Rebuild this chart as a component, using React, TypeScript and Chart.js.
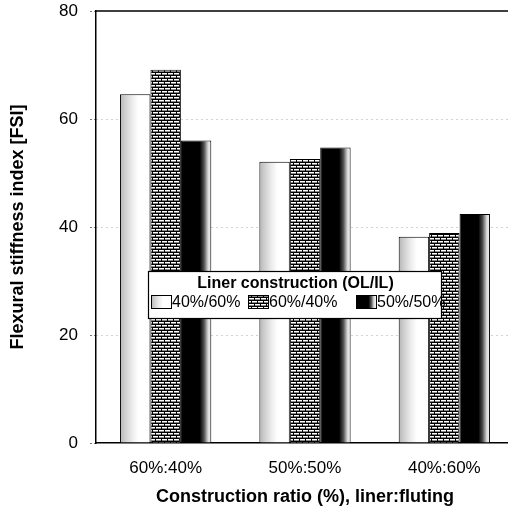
import React, { useEffect, useRef } from "react";
import { Chart, registerables } from "chart.js";

Chart.register(...registerables);

// Construction ratio (liner:fluting) on the category axis
const ratioLabels = ["60%:40%", "50%:50%", "40%:60%"];
// Liner construction (OL/IL) series
const series4060 = [64.6, 52.1, 38.2];
const series6040 = [69.1, 52.6, 38.9];
const series5050 = [56.0, 54.7, 42.4];
const seriesNames = ["40%/60%", "60%/40%", "50%/50%"];
const yTicks = [0, 20, 40, 60, 80];

const FONT = "'Liberation Sans', Arial, sans-serif";
const GROUP_PCT = 0.655;

function brickPattern(ctx: CanvasRenderingContext2D): CanvasPattern | string {
  const c = document.createElement("canvas");
  c.width = 6;
  c.height = 6;
  const p = c.getContext("2d");
  if (!p) return "#444";
  p.fillStyle = "#000";
  p.fillRect(0, 0, 6, 6);
  p.fillStyle = "#fff";
  p.fillRect(0, 1, 5, 1);
  p.fillRect(3, 4, 3, 1);
  p.fillRect(0, 4, 2, 1);
  p.fillStyle = "#888";
  p.fillRect(0, 2, 5, 1);
  p.fillRect(3, 5, 3, 1);
  p.fillRect(0, 5, 2, 1);
  return ctx.createPattern(c, "repeat") || "#444";
}

function lightGradient(ctx: CanvasRenderingContext2D, x0: number, x1: number) {
  const g = ctx.createLinearGradient(x0, 0, x1, 0);
  g.addColorStop(0, "#b4b4b4");
  g.addColorStop(0.15, "#cccccc");
  g.addColorStop(0.4, "#ececec");
  g.addColorStop(0.6, "#ffffff");
  g.addColorStop(1, "#ffffff");
  return g;
}

function darkGradient(ctx: CanvasRenderingContext2D, x0: number, x1: number) {
  const g = ctx.createLinearGradient(x0, 0, x1, 0);
  g.addColorStop(0, "#000000");
  g.addColorStop(0.62, "#000000");
  g.addColorStop(0.76, "#505050");
  g.addColorStop(0.9, "#dcdcdc");
  g.addColorStop(1, "#f2f2f2");
  return g;
}

function barFill(kind: number) {
  return (c: any) => {
    const chart = c.chart;
    const ctx = chart.ctx as CanvasRenderingContext2D;
    if (kind === 1) return brickPattern(ctx);
    const xs = chart.scales?.x;
    if (!chart.chartArea || !xs || c.dataIndex === undefined) {
      return kind === 0 ? "#eeeeee" : "#000000";
    }
    const catW = xs.width / ratioLabels.length;
    const barW = (catW * GROUP_PCT) / 3;
    const cx = xs.getPixelForValue(c.dataIndex);
    const left = cx - (catW * GROUP_PCT) / 2 + c.datasetIndex * barW;
    return kind === 0
      ? lightGradient(ctx, left, left + barW)
      : darkGradient(ctx, left, left + barW);
  };
}

// Top frame line of the plot area
const frameTop = {
  id: "frameTop",
  afterDraw(chart: any) {
    const { ctx, chartArea } = chart;
    ctx.save();
    ctx.strokeStyle = "#000";
    ctx.lineWidth = 1.5;
    ctx.beginPath();
    ctx.moveTo(chartArea.left, chartArea.top);
    ctx.lineTo(chartArea.right, chartArea.top);
    ctx.stroke();
    ctx.restore();
  },
};

// Boxed legend sitting over the bars
const boxLegend = {
  id: "boxLegend",
  afterDraw(chart: any) {
    const { ctx } = chart;
    const bx = 148, by = 271, bw = 293, bh = 47;
    ctx.save();
    ctx.fillStyle = "#fff";
    ctx.fillRect(bx, by, bw, bh);
    ctx.strokeStyle = "#000";
    ctx.lineWidth = 1.2;
    ctx.strokeRect(bx + 0.5, by + 0.5, bw, bh);

    ctx.fillStyle = "#000";
    ctx.font = `bold 16px ${FONT}`;
    ctx.textAlign = "center";
    ctx.textBaseline = "middle";
    ctx.fillText("Liner construction (OL/IL)", bx + bw / 2 + 1, by + 13);

    const swX = [151, 248, 356];
    const sy = by + 24, sw = 20, sh = 13;
    ctx.font = `16px ${FONT}`;
    ctx.textAlign = "left";
    seriesNames.forEach((name, i) => {
      const x = swX[i];
      if (i === 0) ctx.fillStyle = lightGradient(ctx, x, x + sw);
      else if (i === 1) ctx.fillStyle = brickPattern(ctx);
      else ctx.fillStyle = darkGradient(ctx, x, x + sw);
      ctx.fillRect(x, sy, sw, sh);
      ctx.strokeStyle = "#000";
      ctx.lineWidth = 1;
      ctx.strokeRect(x + 0.5, sy + 0.5, sw, sh);
      ctx.fillStyle = "#000";
      ctx.fillText(name, x + sw + 1, sy + sh / 2 + 1);
    });
    ctx.restore();
  },
};

export default function App() {
  const ref = useRef<HTMLCanvasElement>(null);

  useEffect(() => {
    if (!ref.current) return;
    const chart = new Chart(ref.current, {
      type: "bar",
      data: {
        labels: ratioLabels,
        datasets: [
          { label: seriesNames[0], data: series4060, backgroundColor: barFill(0) },
          { label: seriesNames[1], data: series6040, backgroundColor: barFill(1) },
          { label: seriesNames[2], data: series5050, backgroundColor: barFill(2) },
        ].map((d) => ({
          ...d,
          borderColor: "#000",
          borderWidth: 1,
          categoryPercentage: GROUP_PCT,
          barPercentage: 1,
        })),
      },
      options: {
        animation: false,
        responsive: false,
        events: [],
        layout: { padding: { left: 0, right: 6, top: 11, bottom: 0 } },
        plugins: { legend: { display: false }, tooltip: { enabled: false } },
        scales: {
          x: {
            grid: { display: false },
            border: { display: true, color: "#000", width: 1.5 },
            ticks: { color: "#000", font: { family: FONT, size: 17 }, padding: 7 },
            title: {
              display: true,
              text: "Construction ratio (%), liner:fluting",
              color: "#000",
              font: { family: FONT, size: 18, weight: "bold" },
              padding: { top: 0, bottom: 7 },
            },
            afterFit(s: any) {
              s.height = 72;
              s.paddingLeft = 0;
              s.paddingRight = 0;
            },
          },
          y: {
            min: 0,
            max: 80,
            afterBuildTicks(s: any) {
              s.ticks = yTicks.map((v) => ({ value: v }));
            },
            grid: {
              color: (c: any) =>
                c.tick && (c.tick.value === 0 || c.tick.value === 80) ? "rgba(0,0,0,0)" : "#a8a8a8",
              lineWidth: 1,
              tickLength: 6,
              tickColor: "#777777",
              tickBorderDash: [2, 2],
            },
            border: { display: true, color: "#000", width: 1.5, dash: [1, 4] },
            ticks: { color: "#000", font: { family: FONT, size: 17 }, padding: 12 },
            title: {
              display: true,
              text: "Flexural stiffness index [FSI]",
              color: "#000",
              font: { family: FONT, size: 18, weight: "bold" },
              padding: { top: 7, bottom: 0 },
            },
            afterFit(s: any) {
              s.width = 96;
              s.paddingTop = 0;
              s.paddingBottom = 0;
            },
          },
        },
      } as any,
      plugins: [frameTop, boxLegend],
    });
    return () => chart.destroy();
  }, []);

  return (
    <div style={{ position: "fixed", left: 0, top: 0, width: 508, height: 515, overflow: "hidden", background: "#fff" }}>
      <canvas ref={ref} width={520} height={515} style={{ width: 520, height: 515, display: "block" }} />
    </div>
  );
}
